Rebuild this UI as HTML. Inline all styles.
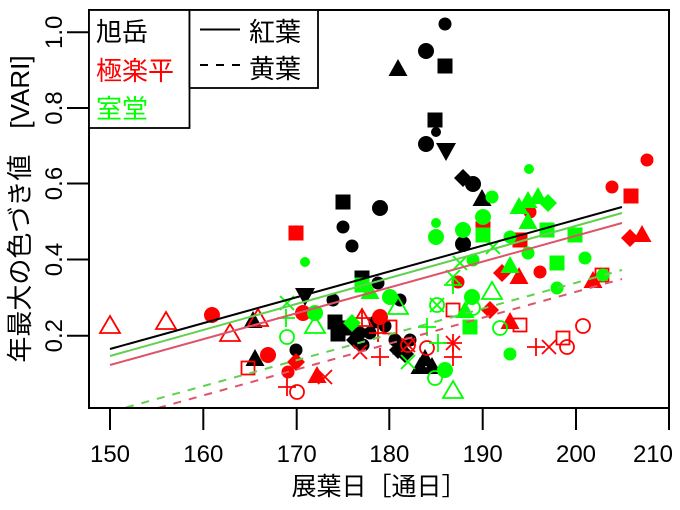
<!DOCTYPE html>
<html><head><meta charset="utf-8"><style>
html,body{margin:0;padding:0;background:#fff;}
svg{display:block;}
text{font-family:"Liberation Sans","Noto Sans CJK JP",sans-serif;}
</style></head><body>
<svg width="680" height="510" viewBox="0 0 680 510" xmlns="http://www.w3.org/2000/svg">
<defs>
<clipPath id="pa"><rect x="89" y="10" width="580" height="398"/></clipPath>
<circle id="fc" r="8"/>
<circle id="mc" r="6.5"/>
<circle id="sc" r="5"/>
<rect id="sq" x="-7.5" y="-7.5" width="15" height="15"/>
<polygon id="tu" points="0,-11 9.5,6 -9.5,6"/>
<polygon id="st" points="0,-6 5,3 -5,3"/>
<polygon id="td" points="0,11 10,-7 -10,-7"/>
<polygon id="dm" points="0,-9 9,0 0,9 -9,0"/>
<circle id="oc" r="7" fill="none" stroke-width="1.8"/>
<rect id="os" x="-6.5" y="-6.5" width="13" height="13" fill="none" stroke-width="1.8"/>
<polygon id="ot" points="0,-11 10,6 -10,6" fill="none" stroke-width="1.8"/>
<path id="pl" d="M-9,0H9M0,-9V9" fill="none" stroke-width="1.8"/>
<path id="xx" d="M-7,-7L7,7M-7,7L7,-7" fill="none" stroke-width="1.8"/>
</defs>

<g clip-path="url(#pa)">
<!-- black -->
<g fill="#000" stroke="#000">
<use href="#mc" x="445" y="24" stroke="none"/>
<use href="#fc" x="426" y="51" stroke="none"/>
<use href="#sq" x="445" y="66" stroke="none"/>
<use href="#tu" x="398" y="70" stroke="none"/>
<use href="#sq" x="435" y="120" stroke="none"/>
<use href="#sc" x="436" y="132" stroke="none"/>
<use href="#fc" x="426" y="144" stroke="none"/>
<use href="#td" x="446" y="150" stroke="none"/>
<use href="#dm" x="463" y="178" stroke="none"/>
<use href="#fc" x="473" y="184" stroke="none"/>
<use href="#tu" x="482" y="200" stroke="none"/>
<use href="#fc" x="380" y="208" stroke="none"/>
<use href="#sq" x="343" y="202" stroke="none"/>
<use href="#mc" x="343" y="227" stroke="none"/>
<use href="#mc" x="352" y="246" stroke="none"/>
<use href="#fc" x="463" y="244" stroke="none"/>
<use href="#st" x="296" y="231" stroke="none"/>
<use href="#sq" x="362" y="278" stroke="none"/>
<use href="#mc" x="378" y="283" stroke="none"/>
<use href="#td" x="305" y="295" stroke="none"/>
<use href="#mc" x="333" y="300" stroke="none"/>
<use href="#mc" x="400" y="300" stroke="none"/>
<use href="#tu" x="253" y="322" stroke="none"/>
<use href="#tu" x="255" y="360" stroke="none"/>
<use href="#mc" x="296" y="350" stroke="none"/>
<use href="#sq" x="335" y="322" stroke="none"/>
<use href="#sq" x="338" y="334" stroke="none"/>
<use href="#sq" x="347" y="328" stroke="none"/>
<use href="#mc" x="360" y="333" stroke="none"/>
<use href="#mc" x="370" y="333" stroke="none"/>
<use href="#mc" x="375" y="322" stroke="none"/>
<use href="#dm" x="355" y="340" stroke="none"/>
<use href="#mc" x="363" y="345" stroke="none"/>
<use href="#mc" x="385" y="326" stroke="none"/>
<use href="#sq" x="400" y="347" stroke="none"/>
<use href="#dm" x="398" y="350" stroke="none"/>
<use href="#dm" x="405" y="354" stroke="none"/>
<use href="#mc" x="410" y="340" stroke="none"/>
<use href="#mc" x="395" y="340" stroke="none"/>
<use href="#tu" x="425" y="360" stroke="none"/>
<use href="#tu" x="432" y="368" stroke="none"/>
<use href="#tu" x="420" y="368" stroke="none"/>
</g>
<!-- red -->
<g fill="#ff0000" stroke="#ff0000">
<use href="#mc" x="647" y="160" stroke="none"/>
<use href="#mc" x="612" y="187" stroke="none"/>
<use href="#sq" x="631" y="196" stroke="none"/>
<use href="#tu" x="642" y="236" stroke="none"/>
<use href="#dm" x="630" y="238" stroke="none"/>
<use href="#mc" x="530" y="212" stroke="none"/>
<use href="#mc" x="540" y="272" stroke="none"/>
<use href="#tu" x="519" y="278" stroke="none"/>
<use href="#dm" x="502" y="273" stroke="none"/>
<use href="#tu" x="593" y="282" stroke="none"/>
<use href="#os" x="602" y="275"/>
<use href="#tu" x="510" y="323" stroke="none"/>
<use href="#os" x="520" y="325"/>
<use href="#oc" x="583" y="326"/>
<use href="#os" x="563" y="338"/>
<use href="#oc" x="567" y="347"/>
<use href="#pl" x="536" y="347"/>
<use href="#xx" x="549" y="347"/>
<use href="#sq" x="520" y="240" stroke="none"/>
<use href="#sq" x="483" y="229" stroke="none"/>
<use href="#mc" x="458" y="282" stroke="none"/>
<use href="#dm" x="490" y="310" stroke="none"/>
<use href="#os" x="453" y="310"/>
<use href="#ot" x="110" y="327"/>
<use href="#ot" x="166" y="323"/>
<use href="#ot" x="230" y="335"/>
<use href="#ot" x="258" y="320"/>
<use href="#fc" x="212" y="315" stroke="none"/>
<use href="#fc" x="268" y="355" stroke="none"/>
<use href="#os" x="248" y="368"/>
<use href="#sq" x="296" y="233" stroke="none"/>
<use href="#fc" x="303" y="313" stroke="none"/>
<use href="#dm" x="296" y="362" stroke="none"/>
<use href="#mc" x="288" y="372" stroke="none"/>
<use href="#pl" x="287" y="387"/>
<use href="#oc" x="297" y="392"/>
<use href="#tu" x="317" y="377" stroke="none"/>
<use href="#xx" x="325" y="377"/>
<use href="#ot" x="362" y="320"/>
<use href="#pl" x="362" y="318"/>
<use href="#xx" x="360" y="352"/>
<use href="#fc" x="380" y="317" stroke="none"/>
<use href="#pl" x="378" y="333"/>
<use href="#pl" x="380" y="357"/>
<use href="#os" x="390" y="327"/>
<use href="#oc" x="408" y="345"/>
<use href="#xx" x="408" y="345"/>
<use href="#oc" x="427" y="348"/>
<use href="#xx" x="453" y="343"/>
<use href="#pl" x="453" y="343"/>
<use href="#pl" x="453" y="357"/>
</g>
<!-- green -->
<g fill="#00ff00" stroke="#00ff00">
<use href="#sc" x="529" y="169" stroke="none"/>
<use href="#tu" x="519" y="208" stroke="none"/>
<use href="#tu" x="528" y="202" stroke="none"/>
<use href="#tu" x="538" y="198" stroke="none"/>
<use href="#dm" x="548" y="203" stroke="none"/>
<use href="#tu" x="528" y="223" stroke="none"/>
<use href="#sq" x="547" y="230" stroke="none"/>
<use href="#sq" x="575" y="235" stroke="none"/>
<use href="#mc" x="585" y="258" stroke="none"/>
<use href="#sq" x="557" y="263" stroke="none"/>
<use href="#mc" x="557" y="288" stroke="none"/>
<use href="#mc" x="603" y="275" stroke="none"/>
<use href="#mc" x="510" y="237" stroke="none"/>
<use href="#mc" x="528" y="253" stroke="none"/>
<use href="#mc" x="492" y="197" stroke="none"/>
<use href="#fc" x="483" y="217" stroke="none"/>
<use href="#sq" x="483" y="235" stroke="none"/>
<use href="#fc" x="463" y="230" stroke="none"/>
<use href="#sc" x="436" y="223" stroke="none"/>
<use href="#fc" x="436" y="237" stroke="none"/>
<use href="#xx" x="493" y="247"/>
<use href="#xx" x="460" y="263"/>
<use href="#mc" x="473" y="260" stroke="none"/>
<use href="#tu" x="510" y="267" stroke="none"/>
<use href="#xx" x="453" y="277"/>
<use href="#pl" x="453" y="285"/>
<use href="#ot" x="492" y="293"/>
<use href="#fc" x="472" y="297" stroke="none"/>
<use href="#oc" x="473" y="308"/>
<use href="#tu" x="465" y="312" stroke="none"/>
<use href="#sq" x="470" y="327" stroke="none"/>
<use href="#oc" x="500" y="328"/>
<use href="#mc" x="510" y="354" stroke="none"/>
<use href="#oc" x="437" y="305"/>
<use href="#xx" x="437" y="305"/>
<use href="#pl" x="427" y="327"/>
<use href="#pl" x="438" y="343"/>
<use href="#ot" x="398" y="308"/>
<use href="#fc" x="390" y="297" stroke="none"/>
<use href="#xx" x="408" y="362"/>
<use href="#fc" x="445" y="370" stroke="none"/>
<use href="#oc" x="435" y="378"/>
<use href="#ot" x="453" y="392"/>
<use href="#sc" x="305" y="262" stroke="none"/>
<use href="#xx" x="287" y="303"/>
<use href="#pl" x="286" y="318"/>
<use href="#oc" x="287" y="337"/>
<use href="#sq" x="362" y="285" stroke="none"/>
<use href="#tu" x="370" y="293" stroke="none"/>
<use href="#fc" x="315" y="313" stroke="none"/>
<use href="#ot" x="315" y="327"/>
<use href="#dm" x="352" y="323" stroke="none"/>
</g>
</g>

<g clip-path="url(#pa)" stroke-width="2" fill="none">
<line x1="110" y1="349" x2="622" y2="207" stroke="#000"/>
<line x1="110" y1="356" x2="622" y2="213" stroke="#61D04F"/>
<line x1="110" y1="365" x2="622" y2="223" stroke="#DF536B"/>
<line x1="126" y1="407.5" x2="622" y2="270" stroke="#61D04F" stroke-dasharray="8,8"/>
<line x1="158" y1="408" x2="622" y2="279" stroke="#DF536B" stroke-dasharray="8,8"/>
</g>

<rect x="89" y="10" width="580" height="398" fill="none" stroke="#000" stroke-width="2"/>

<g stroke="#000" stroke-width="2">
<line x1="67" y1="32.3" x2="89" y2="32.3"/>
<line x1="67" y1="108" x2="89" y2="108"/>
<line x1="67" y1="183.5" x2="89" y2="183.5"/>
<line x1="67" y1="259.5" x2="89" y2="259.5"/>
<line x1="67" y1="335.7" x2="89" y2="335.7"/>
<line x1="110" y1="408" x2="110" y2="430"/>
<line x1="203.3" y1="408" x2="203.3" y2="430"/>
<line x1="296.7" y1="408" x2="296.7" y2="430"/>
<line x1="389.3" y1="408" x2="389.3" y2="430"/>
<line x1="482.7" y1="408" x2="482.7" y2="430"/>
<line x1="576" y1="408" x2="576" y2="430"/>
<line x1="669" y1="408" x2="669" y2="430"/>
</g>

<g font-size="24" fill="#000" text-anchor="middle">
<text transform="translate(62,32.3) rotate(-90)">1.0</text>
<text transform="translate(62,108) rotate(-90)">0.8</text>
<text transform="translate(62,183.5) rotate(-90)">0.6</text>
<text transform="translate(62,259.5) rotate(-90)">0.4</text>
<text transform="translate(62,335.7) rotate(-90)">0.2</text>
</g>
<g font-size="24" fill="#000" text-anchor="middle">
<text x="110" y="462">150</text>
<text x="203.3" y="462">160</text>
<text x="296.7" y="462">170</text>
<text x="389.3" y="462">180</text>
<text x="482.7" y="462">190</text>
<text x="576" y="462">200</text>
<text x="673" y="462" text-anchor="end">210</text>
</g>

<text x="379" y="495" font-size="25" text-anchor="middle" fill="#000">展葉日［通日］</text>
<text transform="translate(29,209) rotate(-90)" font-size="26" text-anchor="middle" fill="#000">年最大の色づき値　[VARI]</text>

<rect x="89" y="10" width="100.5" height="118" fill="#fff" stroke="#000" stroke-width="1.8"/>
<text x="96" y="41" font-size="26" fill="#000">旭岳</text>
<text x="96" y="80" font-size="26" fill="#ff0000">極楽平</text>
<text x="96" y="118" font-size="26" fill="#00ff00">室堂</text>

<rect x="189.5" y="10" width="128.5" height="78" fill="#fff" stroke="#000" stroke-width="1.8"/>
<line x1="200" y1="29.5" x2="240" y2="29.5" stroke="#000" stroke-width="2"/>
<line x1="200" y1="65" x2="240" y2="65" stroke="#000" stroke-width="2" stroke-dasharray="8,8"/>
<text x="249" y="41" font-size="26" fill="#000">紅葉</text>
<text x="249" y="78" font-size="26" fill="#000">黄葉</text>
</svg>
</body></html>
